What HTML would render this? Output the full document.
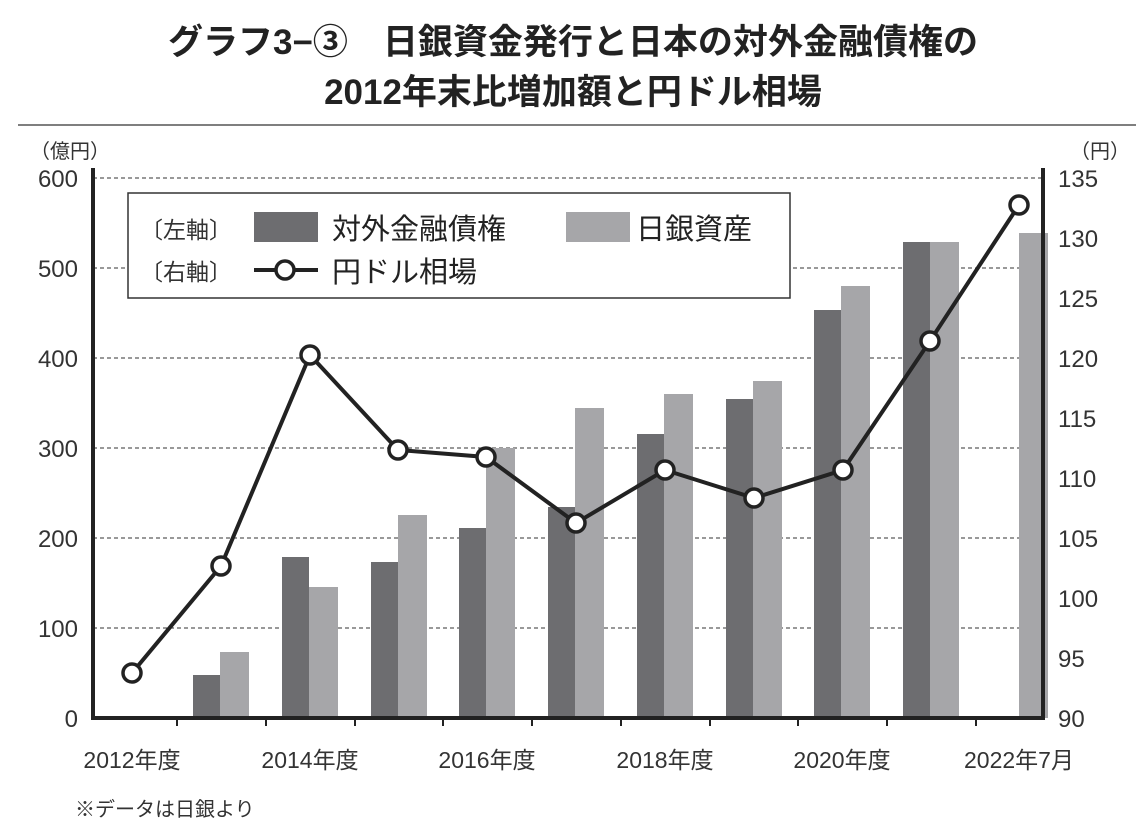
<!DOCTYPE html>
<html><head><meta charset="utf-8"><style>
body{margin:0;background:#fff;}
svg text{font-family:"Liberation Sans","Noto Sans CJK JP",sans-serif;}
</style></head><body>
<svg width="1146" height="835" viewBox="0 0 1146 835" xmlns="http://www.w3.org/2000/svg">
<text x="573" y="54" font-size="35" font-weight="bold" text-anchor="middle" fill="#222">グラフ3−③　日銀資金発行と日本の対外金融債権の</text>
<text x="573" y="104" font-size="35" font-weight="bold" text-anchor="middle" fill="#222">2012年末比増加額と円ドル相場</text>
<line x1="18" y1="125" x2="1136" y2="125" stroke="#555" stroke-width="1.5"/>
<text x="30" y="158" font-size="20" fill="#333">（億円）</text>
<text x="1070" y="158" font-size="20" fill="#333">（円）</text>
<g stroke="#333" stroke-width="1" stroke-dasharray="4,3">
<line x1="93" y1="178" x2="1043" y2="178"/><line x1="93" y1="268" x2="1043" y2="268"/>
<line x1="93" y1="358" x2="1043" y2="358"/><line x1="93" y1="448" x2="1043" y2="448"/>
<line x1="93" y1="538" x2="1043" y2="538"/><line x1="93" y1="628" x2="1043" y2="628"/>
</g>
<g font-size="24" fill="#333" text-anchor="end">
<text x="78" y="727">0</text><text x="78" y="637">100</text><text x="78" y="547">200</text>
<text x="78" y="457">300</text><text x="78" y="367">400</text><text x="78" y="277">500</text><text x="78" y="187">600</text>
</g>
<g font-size="24" fill="#333">
<text x="1058" y="727">90</text><text x="1058" y="667">95</text><text x="1058" y="607">100</text>
<text x="1058" y="547">105</text><text x="1058" y="487">110</text><text x="1058" y="427">115</text>
<text x="1058" y="367">120</text><text x="1058" y="307">125</text><text x="1058" y="247">130</text><text x="1058" y="187">135</text>
</g>
<g fill="#6d6d70">
<rect x="193" y="675" width="27" height="43"/>
<rect x="282" y="557" width="27" height="161"/>
<rect x="371" y="562" width="27" height="156"/>
<rect x="459" y="528" width="27" height="190"/>
<rect x="548" y="507" width="27" height="211"/>
<rect x="637" y="434" width="27" height="284"/>
<rect x="726" y="399" width="27" height="319"/>
<rect x="814" y="310" width="27" height="408"/>
<rect x="903" y="242" width="27" height="476"/>
</g>
<g fill="#a6a6a9">
<rect x="220" y="652" width="29" height="66"/>
<rect x="309" y="587" width="29" height="131"/>
<rect x="398" y="515" width="29" height="203"/>
<rect x="486" y="448" width="29" height="270"/>
<rect x="575" y="408" width="29" height="310"/>
<rect x="664" y="394" width="29" height="324"/>
<rect x="753" y="381" width="29" height="337"/>
<rect x="841" y="286" width="29" height="432"/>
<rect x="930" y="242" width="29" height="476"/>
<rect x="1019" y="233" width="29" height="485"/>
</g>
<line x1="93" y1="168" x2="93" y2="720" stroke="#222" stroke-width="4"/>
<line x1="1043" y1="168" x2="1043" y2="720" stroke="#222" stroke-width="4"/>
<line x1="91" y1="718" x2="1045" y2="718" stroke="#222" stroke-width="4"/>
<g stroke="#222" stroke-width="2">
<line x1="177" y1="718" x2="177" y2="726"/><line x1="266" y1="718" x2="266" y2="726"/>
<line x1="355" y1="718" x2="355" y2="726"/><line x1="443" y1="718" x2="443" y2="726"/>
<line x1="532" y1="718" x2="532" y2="726"/><line x1="621" y1="718" x2="621" y2="726"/>
<line x1="710" y1="718" x2="710" y2="726"/><line x1="798" y1="718" x2="798" y2="726"/>
<line x1="887" y1="718" x2="887" y2="726"/><line x1="976" y1="718" x2="976" y2="726"/>
</g>
<g font-size="23" fill="#333" text-anchor="middle">
<text x="132" y="768">2012年度</text><text x="310" y="768">2014年度</text><text x="487" y="768">2016年度</text>
<text x="665" y="768">2018年度</text><text x="842" y="768">2020年度</text><text x="1019" y="768">2022年7月</text>
</g>
<text x="75" y="816" font-size="20" fill="#333">※データは日銀より</text>
<polyline fill="none" stroke="#222" stroke-width="4" points="132,673 221,566 310,355 398,450 486,457 576,523 665,470 754,498 843,470 930,341 1019,205"/>
<g fill="#fff" stroke="#222" stroke-width="3.5">
<circle cx="132" cy="673" r="9"/><circle cx="221" cy="566" r="9"/><circle cx="310" cy="355" r="9"/>
<circle cx="398" cy="450" r="9"/><circle cx="486" cy="457" r="9"/><circle cx="576" cy="523" r="9"/>
<circle cx="665" cy="470" r="9"/><circle cx="754" cy="498" r="9"/><circle cx="843" cy="470" r="9"/>
<circle cx="930" cy="341" r="9"/><circle cx="1019" cy="205" r="9"/>
</g>
<rect x="128" y="193" width="662" height="105" fill="#fff" stroke="#333" stroke-width="1.5"/>
<g font-size="23" fill="#333">
<text x="140" y="238">〔左軸〕</text><text x="140" y="280">〔右軸〕</text>
</g>
<rect x="254" y="212" width="64" height="30" fill="#6d6d70"/>
<rect x="566" y="212" width="64" height="30" fill="#a6a6a9"/>
<line x1="254" y1="270" x2="318" y2="270" stroke="#222" stroke-width="4"/>
<circle cx="285" cy="270" r="9" fill="#fff" stroke="#222" stroke-width="3.5"/>
<g font-size="29" fill="#222">
<text x="332" y="239">対外金融債権</text><text x="636" y="239">日銀資産</text><text x="332" y="282">円ドル相場</text>
</g>
</svg>
</body></html>
